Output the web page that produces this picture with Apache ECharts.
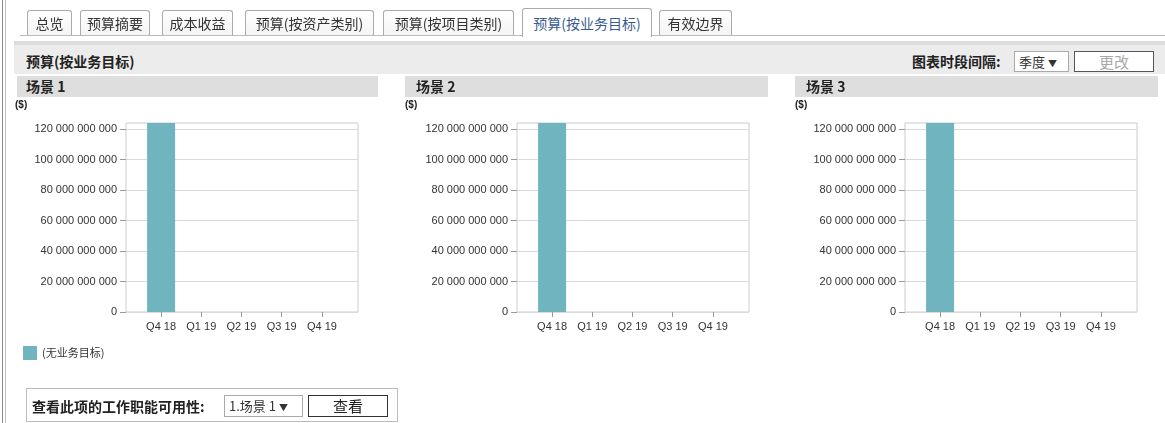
<!DOCTYPE html>
<html>
<head>
<meta charset="utf-8">
<script src="https://cdn.jsdelivr.net/npm/echarts@6/dist/echarts.min.js"></script>
<style>
html,body{margin:0;padding:0;background:#fff;width:1165px;height:423px;overflow:hidden;}
body{position:relative;font-family:"Liberation Sans","Noto Sans CJK SC",sans-serif;color:#222;}
.abs{position:absolute;box-sizing:border-box;}
.tab{position:absolute;top:10px;height:25px;border:1px solid #aaa;border-bottom:none;border-radius:3px 3px 0 0;background:linear-gradient(#fff,#f4f4f4);font-family:"Noto Sans CJK SC",sans-serif;font-size:14px;color:#333;text-align:center;line-height:24px;box-sizing:border-box;}
.tab.active{top:8px;height:29px;background:#fff;color:#3b5b8f;line-height:28px;z-index:2;}
.bold{font-family:"Noto Sans CJK SC",sans-serif;font-weight:bold;font-size:14px;color:#222;}
.scene{position:absolute;top:76px;height:21px;background:#dedede;}
.scene span{position:absolute;top:0;line-height:21px;}
.unit{position:absolute;top:99px;font-size:10px;font-weight:bold;color:#222;font-family:"Liberation Sans",sans-serif;}
.sel{position:absolute;border:1px solid #aaa;background:#fff;font-family:"Noto Sans CJK SC",sans-serif;font-size:13px;color:#333;box-sizing:border-box;padding-left:4px;}
.btn{position:absolute;background:#fff;font-family:"Noto Sans CJK SC",sans-serif;font-size:15px;text-align:center;box-sizing:border-box;}
#chart{position:absolute;left:0;top:0;width:1165px;height:423px;z-index:0;}
.ui{z-index:1;}
</style>
</head>
<body>
<div id="chart"></div>
<div class="abs ui" style="left:2px;top:0;width:1px;height:423px;background:#8a8a8a;"></div>
<div class="abs ui" style="left:5px;top:0;width:1px;height:423px;background:#bdbdbd;"></div>

<div class="abs ui" style="left:20px;top:35px;width:1145px;height:1px;background:#bbb;"></div>
<div class="tab ui" style="left:27px;width:45px;">总览</div>
<div class="tab ui" style="left:80px;width:70px;">预算摘要</div>
<div class="tab ui" style="left:162px;width:71px;">成本收益</div>
<div class="tab ui" style="left:245px;width:129px;">预算(按资产类别)</div>
<div class="tab ui" style="left:383px;width:131px;">预算(按项目类别)</div>
<div class="tab active ui" style="left:522px;width:130px;">预算(按业务目标)</div>
<div class="tab ui" style="left:659px;width:73px;">有效边界</div>

<div class="abs ui" style="left:14px;top:41px;width:1151px;height:4px;background:#dcdcdc;"></div>
<div class="abs ui" style="left:14px;top:45px;width:1151px;height:29px;background:#ececec;"></div>
<div class="abs ui bold" style="left:26px;top:51px;line-height:21px;">预算(按业务目标)</div>
<div class="abs ui bold" style="left:912px;top:51px;line-height:21px;">图表时段间隔:</div>
<div class="sel ui" style="left:1014px;top:51px;width:55px;height:21px;line-height:19px;">季度 <span style="font-size:9px;">▼</span></div>
<div class="btn ui" style="left:1074px;top:51px;width:80px;height:21px;line-height:19px;border:1px solid #555;color:#aaa;">更改</div>

<div class="scene ui" style="left:17px;width:361px;"><span class="bold" style="left:9px;">场景 1</span></div>
<div class="scene ui" style="left:405px;width:363px;"><span class="bold" style="left:11px;">场景 2</span></div>
<div class="scene ui" style="left:795px;width:363px;"><span class="bold" style="left:11px;">场景 3</span></div>
<div class="unit ui" style="left:15px;">($)</div>
<div class="unit ui" style="left:405px;">($)</div>
<div class="unit ui" style="left:795px;">($)</div>

<div class="abs ui" style="left:26px;top:388px;width:372px;height:34px;border:1px solid #bbb;"></div>
<div class="abs ui bold" style="left:32px;top:395px;line-height:22px;">查看此项的工作职能可用性:</div>
<div class="sel ui" style="left:224px;top:395px;width:79px;height:22px;line-height:20px;">1.场景 1 <span style="font-size:9px;">▼</span></div>
<div class="btn ui" style="left:308px;top:395px;width:80px;height:22px;line-height:20px;border:1px solid #333;color:#222;">查看</div>

<script>
var categories = ['Q4 18', 'Q1 19', 'Q2 19', 'Q3 19', 'Q4 19'];
var scenario1 = [124000000000, 0, 0, 0, 0];
var scenario2 = [124000000000, 0, 0, 0, 0];
var scenario3 = [124000000000, 0, 0, 0, 0];
var yTicks = [0, 20000000000, 40000000000, 60000000000, 80000000000, 100000000000, 120000000000];
var yMax = 124000000000;
var seriesName = '(无业务目标)';

var scenarios = [scenario1, scenario2, scenario3];
var lefts = [126, 517, 905];
var gridTop = 123, gridH = 189, gridW = 232, inset = 15, innerW = 201;
var numFont = "'Liberation Sans', Arial, sans-serif";

function fmt(v) {
  return String(Math.round(v)).replace(/\B(?=(\d{3})+(?!\d))/g, ' ');
}

var grids = [], xAxes = [], yAxes = [], series = [];
scenarios.forEach(function (data, i) {
  var L = lefts[i];
  grids.push({left: L, top: gridTop, width: gridW, height: gridH, show: true,
    borderColor: '#cccccc', borderWidth: 1, backgroundColor: 'transparent'});
  grids.push({left: L + inset, top: gridTop, width: innerW, height: gridH});
  xAxes.push({gridIndex: 2 * i, type: 'category', data: categories, show: false});
  xAxes.push({gridIndex: 2 * i + 1, type: 'category', data: categories,
    axisLine: {show: false},
    axisTick: {show: true, alignWithLabel: true, length: 5, lineStyle: {color: '#999'}},
    axisLabel: {color: '#333', fontSize: 11, fontFamily: numFont, margin: 9}});
  yAxes.push({gridIndex: 2 * i, type: 'value', min: 0, max: yMax, interval: 20000000000,
    axisLine: {show: false},
    axisTick: {show: true, length: 6, lineStyle: {color: '#999'}, customValues: yTicks},
    splitLine: {show: true, lineStyle: {color: '#dadada'}},
    axisLabel: {color: '#333', fontSize: 11, fontFamily: numFont, margin: 9,
      customValues: yTicks, formatter: fmt}});
  yAxes.push({gridIndex: 2 * i + 1, type: 'value', min: 0, max: yMax, show: false});
  series.push({type: 'bar', name: seriesName, xAxisIndex: 2 * i + 1, yAxisIndex: 2 * i + 1,
    data: data, barWidth: 28, itemStyle: {color: '#6fb4be'}});
});

var chart = echarts.init(document.getElementById('chart'), null, {renderer: 'canvas'});
chart.setOption({
  animation: false,
  backgroundColor: 'transparent',
  grid: grids,
  xAxis: xAxes,
  yAxis: yAxes,
  series: series,
  legend: {data: [seriesName], left: 23, top: 346, padding: 0, icon: 'rect', itemWidth: 14, itemHeight: 14,
    itemGap: 10, textStyle: {fontSize: 11, color: '#333', fontFamily: "'Noto Sans CJK SC', sans-serif"}}
});
</script>
</body>
</html>
